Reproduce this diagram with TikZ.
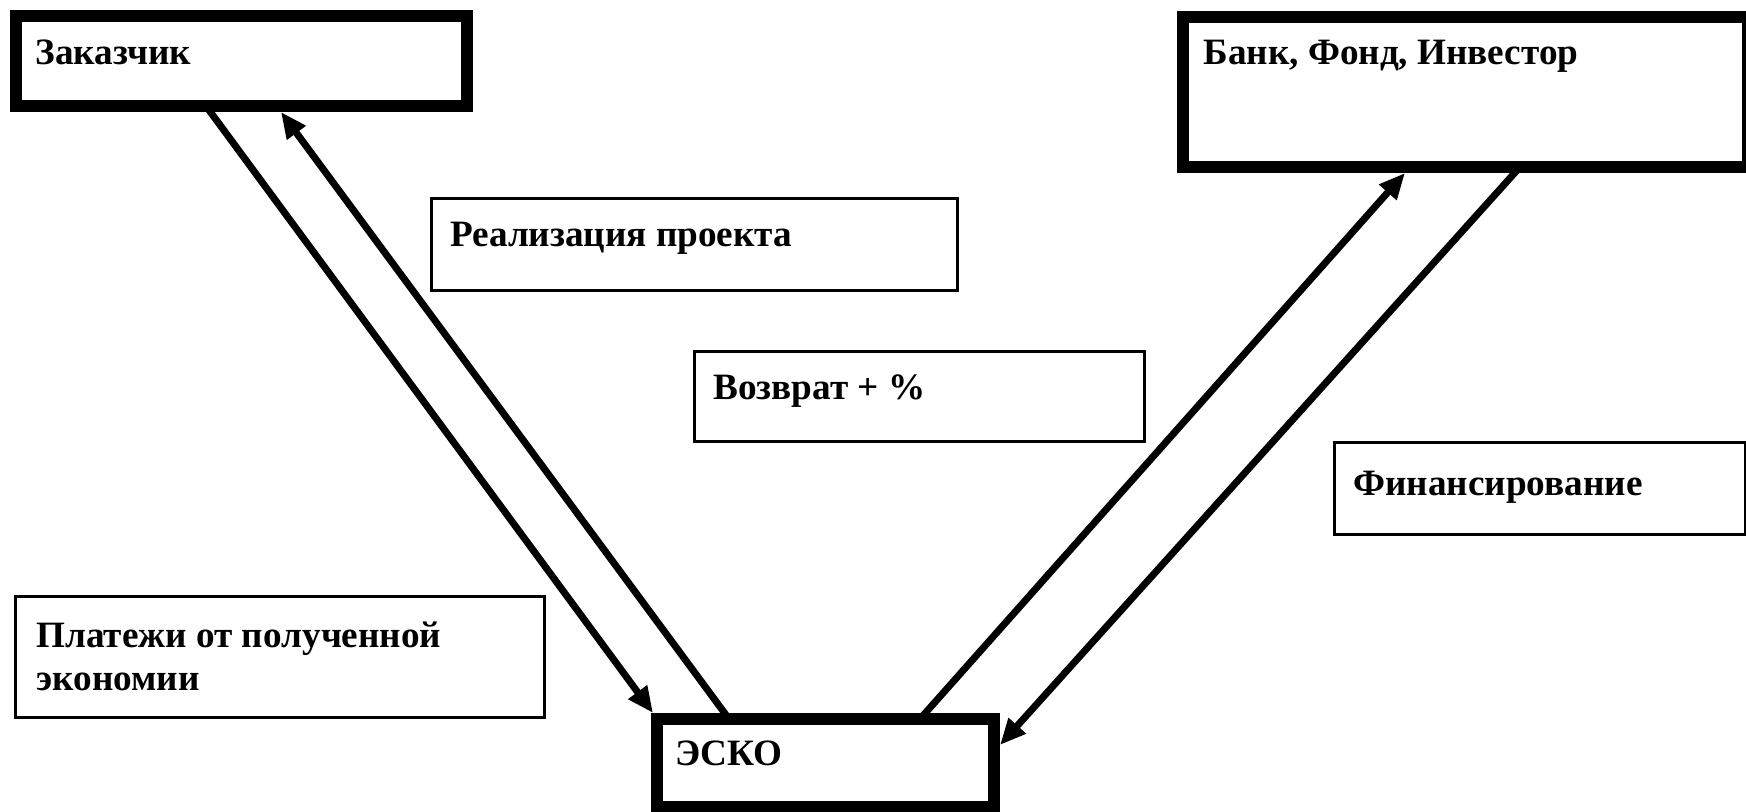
\documentclass[tikz,border=0pt]{standalone}
\usepackage{fontspec}
\setmainfont{Liberation Serif}
\usetikzlibrary{fit,calc,arrows.meta}
\begin{document}
\begin{tikzpicture}[x=0.5pt,y=-0.5pt,
 thickbox/.style={draw=black,line width=6pt,inner sep=0pt,outer sep=0pt},
 thinbox/.style={draw=black,line width=1.5pt,inner sep=0pt,outer sep=0pt},
 lbl/.style={anchor=base west,inner sep=0pt,font=\fontsize{18.6pt}{22pt}\selectfont\bfseries},
 arr/.style={line width=3.5pt,-{Triangle[length=13pt,width=11pt]}}]
\useasboundingbox[fill=white] (0,0) rectangle (1746,812);
% thick boxes
\node[thickbox,fit={(16,16) (467,106)}] (zak) {};
\node[thickbox,fit={(1183,17) (1748,167)}] (bank) {};
\node[thickbox,fit={(657,719) (994,807)}] (esko) {};
% thin boxes
\node[thinbox,fit={(431,199) (957,291)}] (real) {};
\node[thinbox,fit={(694,352) (1144,442)}] (vozv) {};
\node[thinbox,fit={(1334,443) (1745,535)}] (fin) {};
\node[thinbox,fit={(15,596) (544,717)}] (plat) {};
% labels
\node[lbl] (zakt) at (35,65) {Заказчик};
\node[lbl] (bankt) at (1203,65) {Банк, Фонд, Инвестор};
\node[lbl] (eskot) at (675,765) {ЭСКО};
\node[lbl] (realt) at (450,247) {Реализация проекта};
\node[lbl] (vozvt) at (713,400) {Возврат + \%};
\node[lbl] (fint) at (1353,495) {Финансирование};
\node[lbl] (plat1) at (36,647) {Платежи от полученной};
\node[lbl] (plat2) at (36,690) {экономии};
% connectors
\draw[arr] ($(zak.south west)+(190,0)$) -- ($(esko.north west)+(-4,-6)$);
\draw[arr] ($(esko.north west)+(72,0)$) -- ($(zak.south west)+(265,6)$);
\draw[arr] ($(esko.north west)+(263,0)$) -- ($(bank.south west)+(222,6)$);
\draw[arr] ($(bank.south west)+(337,0)$) -- ($(esko.north east)+(6,26)$);
\end{tikzpicture}
\end{document}
